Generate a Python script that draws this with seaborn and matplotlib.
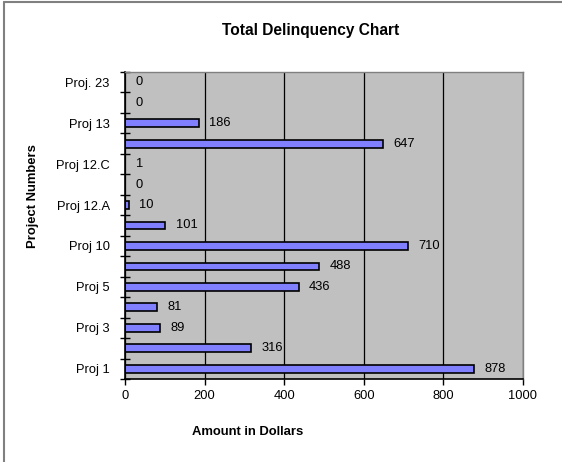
import numpy as np
import pandas as pd
import matplotlib
matplotlib.use("Agg")
import matplotlib.pyplot as plt
import seaborn as sns

# bottom to top, as in the chart
projects = ["Proj 1", "Proj 2", "Proj 3", "Proj 4", "Proj 5", "Proj 6", "Proj 10",
            "Proj 11", "Proj 12.A", "Proj 12.B", "Proj 12.C", "Proj 12.D", "Proj 13",
            "Proj 14", "Proj. 23"]
amounts = [878, 316, 89, 81, 436, 488, 710, 101, 10, 0, 1, 647, 186, 0, 0]
shown_labels = ["Proj 1", "Proj 3", "Proj 5", "Proj 10", "Proj 12.A", "Proj 12.C",
                "Proj 13", "Proj. 23"]

data = pd.DataFrame({"project": projects, "amount": amounts})
order = projects[::-1]  # seaborn puts first category at the top

sns.set_theme(style="white")
plt.rcParams["font.family"] = ["Liberation Sans", "DejaVu Sans"]
plt.rcParams["text.color"] = "black"
plt.rcParams["xtick.color"] = "black"
plt.rcParams["ytick.color"] = "black"

fig = plt.figure(figsize=(5.62, 4.62), dpi=100)
ax = fig.add_axes([0.2224, 0.1797, 0.7082, 0.6645])
ax.set_facecolor("#C0C0C0")

sns.barplot(data=data, x="amount", y="project", order=order, orient="h",
            color="#8080FF", saturation=1, edgecolor="black", linewidth=1.2,
            width=0.38, ax=ax)

ax.set_xlim(0, 1000)
ax.set_ylim(len(order) - 0.5, -0.5)
ax.set_xticks([0, 200, 400, 600, 800, 1000])
ax.xaxis.grid(True, color="black", linewidth=0.9)
ax.set_axisbelow(True)

# labels only on every other category, ticks on category borders
pos = [order.index(p) for p in shown_labels]
ax.set_yticks(pos)
ax.set_yticklabels(shown_labels)
ax.set_yticks(np.arange(-0.5, len(order), 1.0), minor=True)
ax.tick_params(axis="y", which="major", length=0, pad=11, labelsize=9.3, labelcolor="black")
ax.tick_params(axis="y", which="minor", direction="inout", length=7, width=1, color="black", left=True)
ax.tick_params(axis="x", which="major", direction="out", length=4, width=1, color="black",
               bottom=True, labelsize=9.3, pad=4, labelcolor="black")

for s in ["top", "right"]:
    ax.spines[s].set_color("#808080")
    ax.spines[s].set_linewidth(1)
for s in ["left", "bottom"]:
    ax.spines[s].set_color("black")
    ax.spines[s].set_linewidth(1.2)

for i, p in enumerate(order):
    v = amounts[projects.index(p)]
    ax.annotate(str(v), xy=(v, i), xytext=(7.5, 0), textcoords="offset points",
                va="center", ha="left", fontsize=9.3, color="black")

ax.set_xlabel("")
ax.set_ylabel("")
fig.text(0.440, 0.065, "Amount in Dollars", ha="center", va="center", fontsize=9.4, weight="bold")
fig.text(0.059, 0.576, "Project Numbers", ha="center", va="center", rotation=90,
         fontsize=9.4, weight="bold")
fig.text(0.553, 0.933, "Total Delinquency Chart", ha="center", va="center",
         fontsize=11.2, weight="bold")

# chart frame: only the top and left edges are inside the picture
fig.add_artist(plt.Line2D([0.0075, 1.0], [0.995, 0.995], transform=fig.transFigure,
                          color="#808080", linewidth=1.5))
fig.add_artist(plt.Line2D([0.0075, 0.0075], [0.0, 0.995], transform=fig.transFigure,
                          color="#808080", linewidth=1.5))

fig.savefig("out.png", dpi=100)
